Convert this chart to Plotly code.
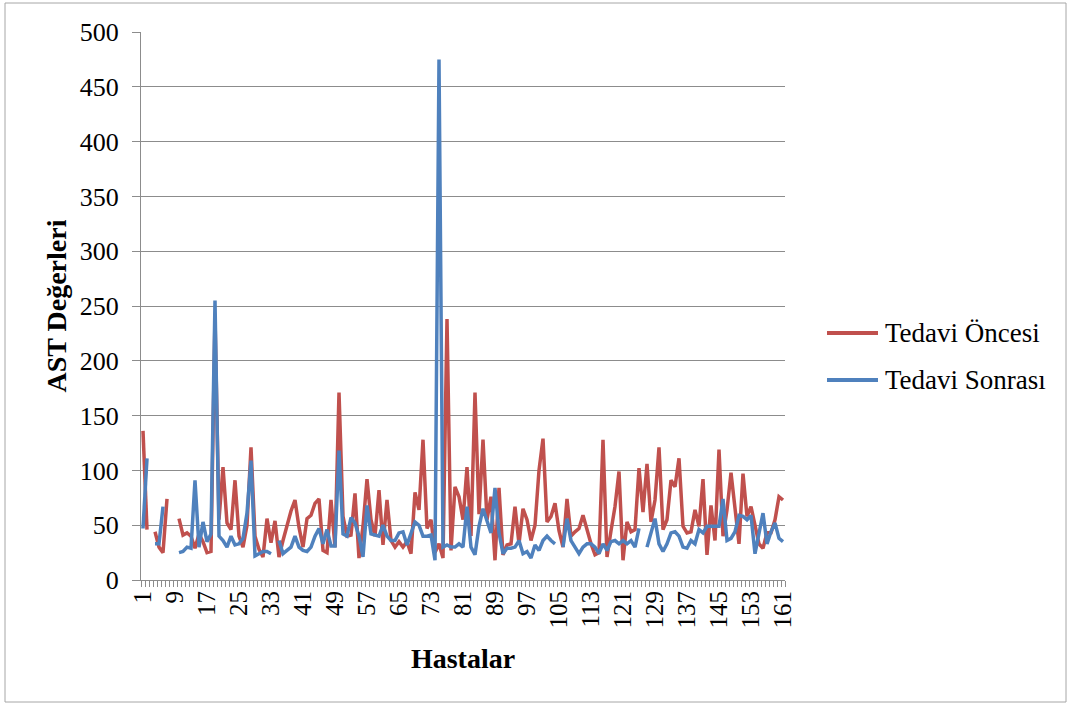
import plotly.graph_objects as go

patients = list(range(1, 162))
tick_labels = list(range(1, 162, 8))
series_names = ["Tedavi Öncesi", "Tedavi Sonrası"]
series_colors = ["#C0504D", "#4F81BD"]

tedavi_oncesi = [
    136, 46, None, 44, 30, 25, 74, None, None, 56,
    41, 43, 40, 29, 42, 35, 25, 26, 240, 55,
    103, 52, 46, 91, 40, 30, 50, 121, 40, 28,
    21, 56, 34, 54, 21, 36, 49, 63, 73, 48,
    30, 56, 59, 70, 74, 27, 25, 73, 30, 171,
    58, 40, 41, 79, 20, 49, 92, 55, 40, 82,
    32, 73, 36, 30, 35, 30, 35, 24, 80, 64,
    128, 47, 55, 25, 33, 20, 238, 27, 85, 76,
    55, 103, 40, 171, 60, 128, 55, 76, 18, 84,
    23, 32, 33, 67, 33, 65, 55, 36, 50, 100,
    129, 53, 58, 70, 45, 30, 74, 40, 44, 47,
    59, 45, 33, 23, 25, 128, 21, 45, 67, 99,
    18, 53, 44, 46, 102, 62, 106, 53, 73, 121,
    46, 55, 91, 85, 111, 49, 43, 44, 64, 49,
    92, 23, 68, 36, 119, 40, 64, 98, 64, 33,
    97, 58, 67, 49, 33, 29, 43, 43, 55, 76,
    73,
]

tedavi_sonrasi = [
    47, 111, None, 33, 33, 67, None, None, None, 25,
    26, 30, 29, 91, 30, 53, 35, 42, 255, 40,
    36, 30, 40, 32, 33, 38, 61, 109, 22, 24,
    26, 26, 24, None, 36, 24, 27, 30, 40, 30,
    27, 26, 30, 40, 47, 33, 46, 31, 31, 118,
    42, 40, 57, 52, 40, 21, 68, 42, 41, 40,
    50, 40, 36, 36, 43, 44, 32, 43, 53, 50,
    40, 40, 41, 18, 475, 30, 32, 30, 30, 33,
    30, 67, 30, 23, 49, 65, 55, 43, 84, 43,
    24, 29, 29, 30, 36, 24, 26, 20, 32, 27,
    36, 40, 36, 33, None, 30, 56, 36, 30, 24,
    30, 33, 33, 30, 24, 33, 27, 35, 36, 33,
    36, 33, 36, 30, 47, None, 30, 43, 56, 33,
    26, 33, 43, 44, 40, 30, 29, 36, 33, 46,
    43, 49, 49, 49, 49, 74, 36, 38, 44, 59,
    58, 55, 59, 24, 44, 61, 33, 44, 52, 38,
    35,
]

FONT = '"Liberation Serif", "Times New Roman", Times, serif'
GRID = "#8c8c8c"

# pixel -> paper helpers (plot area: x 141..785, y 32..580)
def px(x):
    return (x - 141) / 644

def py(y):
    return (580 - y) / 548

fig = go.Figure()
for name, vals, col in zip(series_names, [tedavi_oncesi, tedavi_sonrasi], series_colors):
    fig.add_trace(go.Scatter(x=patients, y=vals, mode="lines", name=name,
                             line=dict(color=col, width=3.5), showlegend=False))

shapes = [dict(type="rect", xref="paper", yref="paper",
               x0=px(5), x1=px(1066), y0=py(702), y1=py(3),
               line=dict(color="#A6A6A6", width=1), fillcolor="rgba(0,0,0,0)", layer="below")]
annotations = []
for k, (name, col) in enumerate(zip(series_names, series_colors)):
    yy = 333 + 47 * k
    shapes.append(dict(type="line", xref="paper", yref="paper",
                       x0=px(827), x1=px(878), y0=py(yy), y1=py(yy),
                       line=dict(color=col, width=4)))
    annotations.append(dict(xref="paper", yref="paper", x=px(883), y=py(yy),
                            xanchor="left", yanchor="middle", showarrow=False,
                            text=name, font=dict(family=FONT, size=27, color="black")))

fig.update_layout(
    width=1071, height=706,
    margin=dict(l=141, r=286, t=32, b=126),
    paper_bgcolor="white", plot_bgcolor="white",
    font=dict(family=FONT, size=26, color="black"),
    showlegend=False,
    xaxis=dict(
        range=[0.5, 161.5], tickmode="array", tickvals=tick_labels,
        ticktext=[str(v) for v in tick_labels], tickangle=-90,
        ticks="", showgrid=False, zeroline=False,
        showline=True, linecolor=GRID, linewidth=1,
        tickfont=dict(family=FONT, size=25),
        minor=dict(tickmode="linear", tick0=0.5, dtick=1, ticks="outside",
                   ticklen=6, tickcolor=GRID, tickwidth=1, showgrid=False),
        title=dict(text="<b>Hastalar</b>", font=dict(family=FONT, size=28), standoff=20),
    ),
    yaxis=dict(
        range=[0, 500], tickmode="linear", tick0=0, dtick=50,
        showgrid=True, gridcolor=GRID, gridwidth=1, zeroline=False,
        showline=True, linecolor=GRID, linewidth=1,
        ticks="outside", ticklen=8, tickcolor=GRID,
        ticklabelstandoff=8,
        tickfont=dict(family=FONT, size=26),
        title=dict(text="<b>AST Değerleri</b>", font=dict(family=FONT, size=28), standoff=4),
    ),
    shapes=shapes,
    annotations=annotations,
)

fig.write_html("out.html")
